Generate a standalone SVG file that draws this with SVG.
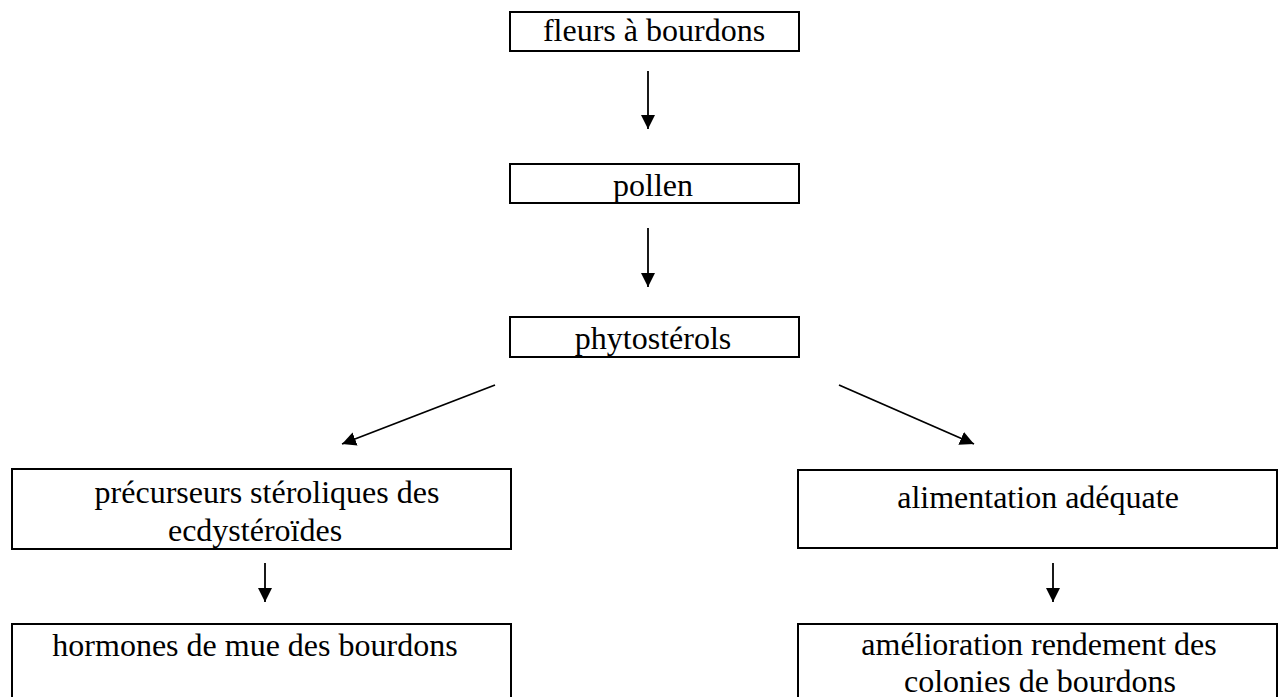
<svg xmlns="http://www.w3.org/2000/svg" width="1283" height="697" viewBox="0 0 1283 697">
<style>
.box{fill:#fff;stroke:#000;stroke-width:2}
.lbl{font-family:"Liberation Serif","Times New Roman",serif;font-size:32px;fill:#000;text-anchor:middle}
.conn{stroke:#000;stroke-width:1.8;fill:none;marker-end:url(#ah)}
</style>
<defs>
<marker id="ah" markerUnits="userSpaceOnUse" markerWidth="15" markerHeight="15" refX="14" refY="7" orient="auto">
<path d="M0,0 L14,7 L0,14 z" fill="#000"/>
</marker>
</defs>
<rect width="1283" height="697" fill="#fff"/>
<g id="n1"><rect class="box" x="510" y="12" width="289" height="39"/><text class="lbl" x="654" y="41">fleurs à bourdons</text></g>
<g id="n2"><rect class="box" x="510" y="164" width="289" height="39"/><text class="lbl" x="653" y="196">pollen</text></g>
<g id="n3"><rect class="box" x="510" y="317" width="289" height="40"/><text class="lbl" x="653" y="349">phytostérols</text></g>
<g id="n4"><rect class="box" x="12" y="469" width="499" height="80"/><text class="lbl" x="267" y="503">précurseurs stéroliques des</text><text class="lbl" x="255" y="541">ecdystéroïdes</text></g>
<g id="n5"><rect class="box" x="798" y="470" width="479" height="78"/><text class="lbl" x="1038" y="508">alimentation adéquate</text></g>
<g id="n6"><rect class="box" x="12" y="624" width="499" height="90"/><text class="lbl" x="255" y="656">hormones de mue des bourdons</text></g>
<g id="n7"><rect class="box" x="798" y="624" width="479" height="90"/><text class="lbl" x="1039" y="655">amélioration rendement des</text><text class="lbl" x="1040" y="692">colonies de bourdons</text></g>
<g id="connectors">
<line class="conn" x1="648" y1="71" x2="648" y2="129"/>
<line class="conn" x1="648" y1="228" x2="648" y2="287"/>
<line class="conn" x1="495" y1="385" x2="342" y2="444"/>
<line class="conn" x1="839" y1="385" x2="974" y2="444"/>
<line class="conn" x1="265" y1="563" x2="265" y2="602"/>
<line class="conn" x1="1053" y1="563" x2="1053" y2="602"/>
</g>
</svg>
